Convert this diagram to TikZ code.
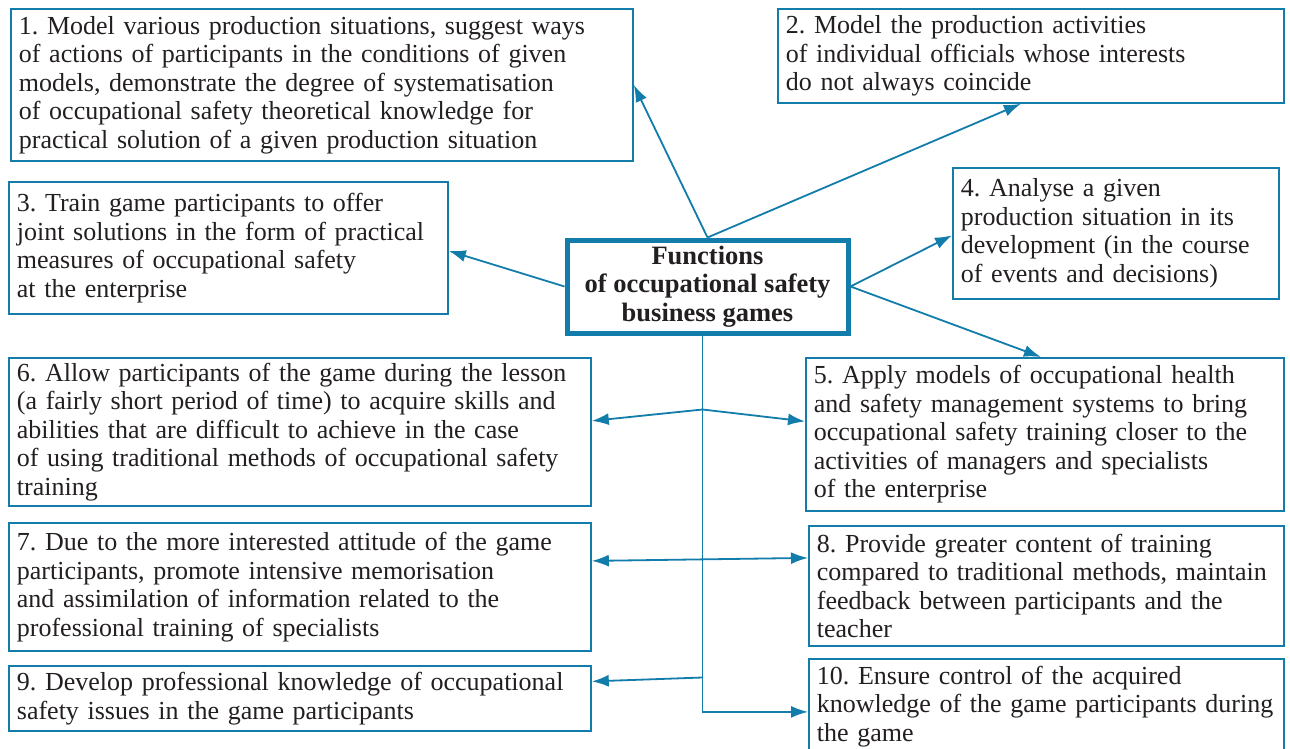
\documentclass[tikz,border=0pt]{standalone}
\usepackage{fontspec}
\setmainfont{Liberation Serif}
\usepackage{tikz}
\usetikzlibrary{positioning, arrows.meta, calc}
\definecolor{lineblue}{RGB}{18,124,170}
\definecolor{inkgray}{RGB}{35,31,32}
\frenchspacing
\tikzset{
	>={Latex[length=17pt,width=12pt]}, % filled arrow heads
	link/.style={draw=lineblue, line width=1.8pt}, % connectors in the blue of the boxes
	funcbox/.style={draw=lineblue, line width=1.8pt, anchor=north west, align=left,
		inner xsep=8pt, inner ysep=0pt, text=inkgray,
		font=\fontsize{26}{28.5}\selectfont}, % one box per function
	hubbox/.style={draw=lineblue, line width=5pt, align=center, text=inkgray,
		minimum width=281pt, minimum height=93pt, inner sep=0pt,
		font=\fontsize{26.5}{28.5}\selectfont\bfseries}, % the central box
}
\begin{document}
\begin{tikzpicture}[x=1pt, y=-1pt]
	\useasboundingbox (0,0) rectangle (1290,749);
	\fill[white] (0,0) rectangle (1290,749);

	% central node
	\node[hubbox] (hub) at (707.5,286.5) {Functions\\of occupational safety\\business games};

	% function boxes
	\node[funcbox, text width=606pt, minimum height=152pt] (f1) at (10,8)
		{1. Model various production situations, suggest ways\\of actions of participants in the conditions of given\\models, demonstrate the degree of systematisation\\of occupational safety theoretical knowledge for\\practical solution of a given production situation};
	\node[funcbox, text width=490pt, minimum height=94pt] (f2) at (777,8)
		{2. Model the production activities\\of individual officials whose interests\\do not always coincide};
	\node[funcbox, text width=423pt, minimum height=132pt] (f3) at (8,181)
		{3. Train game participants to offer\\joint solutions in the form of practical\\measures of occupational safety\\at the enterprise};
	\node[funcbox, text width=310pt, minimum height=131pt] (f4) at (952,167)
		{4. Analyse a given\\production situation in its\\development (in the course\\of events and decisions)};
	\node[funcbox, text width=462pt, minimum height=153pt] (f5) at (805,357)
		{5. Apply models of occupational health\\and safety management systems to bring\\occupational safety training closer to the\\activities of managers and specialists\\of the enterprise};
	\node[funcbox, text width=566pt, minimum height=148pt] (f6) at (8,357)
		{6. Allow participants of the game during the lesson\\(a fairly short period of time) to acquire skills and\\abilities that are difficult to achieve in the case\\of using traditional methods of occupational safety\\training};
	\node[funcbox, text width=566pt, minimum height=128pt] (f7) at (8,522)
		{7. Due to the more interested attitude of the game\\participants, promote intensive memorisation\\and assimilation of information related to the\\professional training of specialists};
	\node[funcbox, text width=459pt, minimum height=120pt] (f8) at (808,525)
		{8. Provide greater content of training\\compared to traditional methods, maintain\\feedback between participants and the\\teacher};
	\node[funcbox, text width=566pt, minimum height=65pt] (f9) at (8,665)
		{9. Develop professional knowledge of occupational\\safety issues in the game participants};
	\node[funcbox, text width=459pt, minimum height=95pt] (f10) at (808,658)
		{10. Ensure control of the acquired\\knowledge of the game participants during\\the game};

	% trunk below the central node
	\coordinate (trunk) at ([xshift=-5pt]hub.south);
	\coordinate (j6) at ($(trunk)+(0,74)$);
	\coordinate (j9) at ($(trunk)+(0,342)$);

	% arrows
	\draw[link, ->] (hub.north) -- (f1.east);
	\draw[link, ->] (hub.north) -- ([xshift=-10pt]f2.south);
	\draw[link, ->] (hub.west) -- ([yshift=-3pt]f3.east);
	\draw[link, ->] (hub.east) -- ([yshift=-2pt]f4.west);
	\draw[link, ->] (hub.east) -- ([xshift=-4pt]f5.north);
	\draw[link, ->] (trunk) |- ([yshift=-5.5pt]f10.west);
	\draw[link, ->] (j6) -- ([yshift=11pt]f6.east);
	\draw[link, ->] (j6) -- ([yshift=13pt]f5.west);
	\draw[link, <->] ([yshift=26pt]f7.east) -- ([yshift=28pt]f8.west);
	\draw[link, ->] (j9) -- ([yshift=17pt]f9.east);
\end{tikzpicture}
\end{document}
